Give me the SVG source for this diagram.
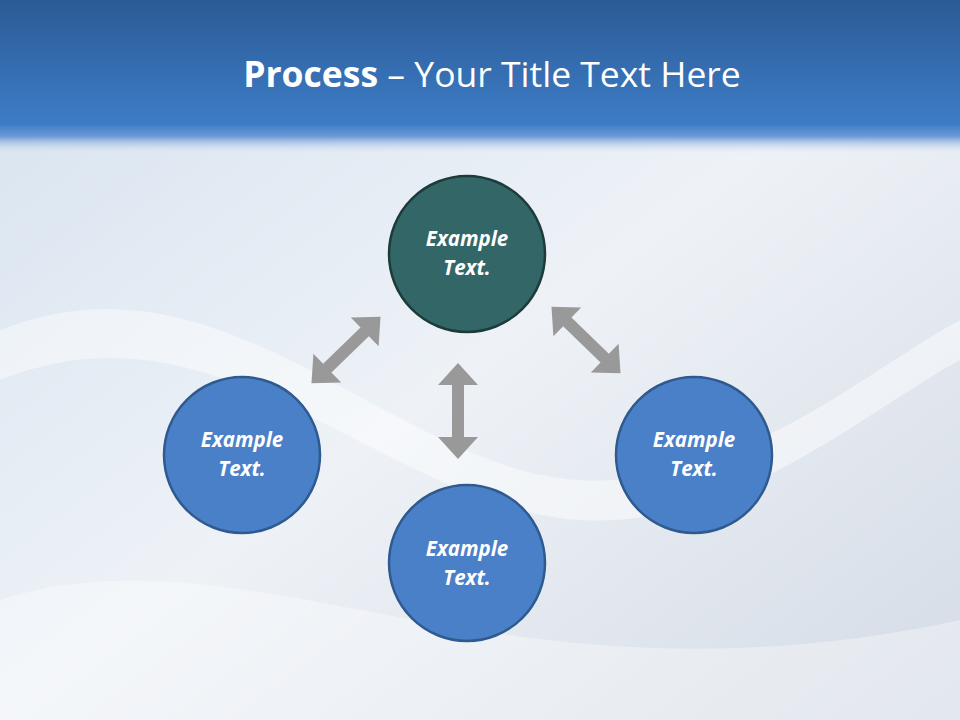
<svg xmlns="http://www.w3.org/2000/svg" width="960" height="720" viewBox="0 0 960 720">
<defs>
<linearGradient id="hdr" x1="0" y1="0" x2="0" y2="1">
<stop offset="0" stop-color="#2b5b96"/><stop offset="0.8" stop-color="#3d7cc6"/><stop offset="0.88" stop-color="#6d9ad6"/><stop offset="1" stop-color="#eef3f9" stop-opacity="0"/>
</linearGradient>
<linearGradient id="bg" x1="0" y1="0" x2="1" y2="1">
<stop offset="0" stop-color="#d6e2ef"/><stop offset="0.5" stop-color="#eef2f7"/><stop offset="1" stop-color="#d4dbe5"/>
</linearGradient>
<polygon id="dbl" points="-48,0 -26,-20 -26,-6 26,-6 26,-20 48,0 26,20 26,6 -26,6 -26,20"/>
<style>
.blue{fill:#4a80c8;stroke:#2f5a8f;stroke-width:2.5}
.teal{fill:#336666;stroke:#1d3b3b;stroke-width:2.5}
.lbl{font-family:"Open Sans","Liberation Sans",sans-serif;font-size:20.5px;font-weight:bold;font-style:italic;fill:#fff;text-anchor:middle}
.arr{fill:#999}
</style>
</defs>
<rect width="960" height="720" fill="url(#bg)"/>
<path d="M0,330 C200,250 350,420 520,470 C700,520 850,380 960,320 L960,360 C850,420 700,560 520,510 C340,460 200,300 0,380Z" fill="#ffffff" opacity="0.45"/>
<path d="M0,600 C250,520 500,720 960,620 L960,720 L0,720Z" fill="#ffffff" opacity="0.35"/>
<rect width="960" height="155" fill="url(#hdr)"/>
<text x="492" y="87" font-family="'Open Sans','Liberation Sans',sans-serif" font-size="35.5" fill="#fff" text-anchor="middle"><tspan font-weight="bold">Process</tspan> – Your Title Text Here</text>
<g id="connectors">
<use href="#dbl" class="arr" transform="translate(346,350) rotate(-44)"/>
<use href="#dbl" class="arr" transform="translate(586,340) rotate(44)"/>
<use href="#dbl" class="arr" transform="translate(458,411) rotate(90)"/>
</g>
<g id="n1"><circle cx="467" cy="254" r="78" class="teal"/><text class="lbl" x="467" y="246">Example</text><text class="lbl" x="467" y="275">Text.</text></g>
<g id="n2"><circle cx="242" cy="455" r="78" class="blue"/><text class="lbl" x="242" y="447">Example</text><text class="lbl" x="242" y="476">Text.</text></g>
<g id="n3"><circle cx="694" cy="455" r="78" class="blue"/><text class="lbl" x="694" y="447">Example</text><text class="lbl" x="694" y="476">Text.</text></g>
<g id="n4"><circle cx="467" cy="563" r="78" class="blue"/><text class="lbl" x="467" y="556">Example</text><text class="lbl" x="467" y="585">Text.</text></g>
</svg>
